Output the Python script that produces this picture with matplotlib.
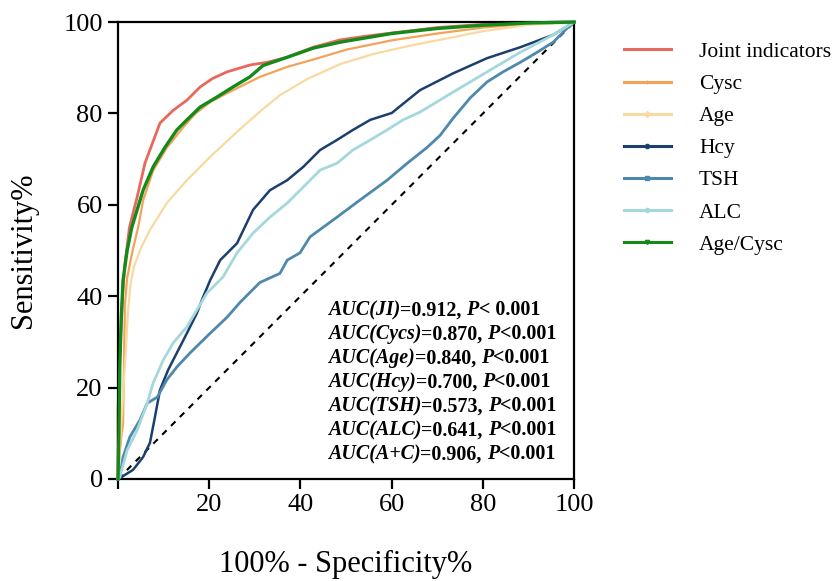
"""
ROC curves for single and joint indicators
"""
import numpy as np
import matplotlib
matplotlib.use("Agg")
import matplotlib.pyplot as plt
from matplotlib.lines import Line2D

plt.rcParams['font.family'] = ['Liberation Serif', 'DejaVu Serif']

# 100% - Specificity% (x) and Sensitivity% (y)
joint_x = [0, 0, 0.5, 1, 1.5, 2.5, 3.5, 4.2, 5.9, 9.2, 12.1, 15.1, 18.0, 20.8, 23.9, 28.9, 32.7,
           37.1, 42.8, 48.7, 55, 60, 70, 80, 90, 100]
joint_y = [0, 15, 30, 40, 47, 55, 59, 61.7, 69.1, 77.9, 80.7, 82.9, 85.8, 87.7, 89.1, 90.6, 91.2,
           92.3, 94.5, 96.1, 97.0, 97.6, 98.8, 99.5, 99.9, 100]

cysc_x = [0, 0.3, 0.8, 1.1, 1.3, 1.5, 2.0, 3.2, 4.4, 5.5, 7.7, 10.7, 14.3, 17.0, 20.2, 25.2, 31.1,
          37.1, 42.8, 50.2, 60, 70, 80, 90, 100]
cysc_y = [0, 5, 10, 12, 25, 38, 44, 50, 55, 61, 67.5, 72.5, 77, 80, 82.5, 85.1, 88,
          90.2, 91.8, 94, 96, 97.5, 98.8, 99.6, 100]

age_x = [0, 0.3, 0.7, 1.2, 1.7, 2.2, 2.8, 3.5, 5.0, 7.0, 10.7, 15.1, 20.2, 26.1, 31.8, 35.5, 41.4,
         48.7, 55.9, 63.4, 68.4, 75, 80, 90, 100]
age_y = [0, 5, 12, 20, 28, 37, 43, 46.5, 50.5, 54.5, 60.4, 65.4, 70.5, 76, 81, 84, 87.5,
         90.8, 93, 94.7, 95.7, 97, 98, 99.4, 100]

hcy_x = [0, 0.4, 3.3, 5.5, 7.0, 8.1, 9.2, 11.0, 12.9, 15.1, 17.3, 18.4, 20.2, 22.4, 26.1, 29.6,
         33.3, 37.1, 40.6, 44.3, 48.0, 51.5, 55.3, 60, 66.2, 73.5, 80.9, 88.2, 95.4, 100]
hcy_y = [0, 0.2, 2.0, 4.8, 7.9, 13.6, 19.5, 23.9, 27.6, 31.9, 36.3, 39.2, 43.5, 47.9, 51.6, 58.9,
         63.2, 65.4, 68.3, 72.0, 74.2, 76.4, 78.6, 80.1, 85.1, 88.8, 92.1, 94.5, 97.2, 100]

tsh_x = [0, 0.4, 1.1, 2.6, 4.8, 6.4, 8.6, 10.7, 12.9, 15.8, 20.2, 23.9, 26.8, 31.1, 35.5, 37.1,
         39.9, 42.1, 48.0, 53.1, 59.0, 63.4, 67.8, 70.6, 73.5, 77.2, 80.9, 84.4, 88.2, 91.9,
         95.4, 98.5, 100]
tsh_y = [0, 0.4, 4.8, 9.2, 12.9, 16.6, 17.9, 21.7, 24.5, 27.6, 31.9, 35.4, 38.7, 43.0, 45.0, 47.9,
         49.5, 53.0, 57.3, 61.1, 65.4, 69.1, 72.6, 75.2, 79.0, 83.4, 86.9, 89.1, 91.2, 93.4,
         95.6, 98.7, 100]

alc_x = [0, 0.4, 2.0, 4.2, 6.4, 7.7, 9.9, 12.1, 15.1, 17.3, 19.5, 23.0, 26.1, 29.6, 33.3, 37.1,
         40.6, 44.3, 48.0, 51.5, 55.3, 59.0, 62.5, 66.2, 73.5, 80.9, 88.2, 95.4, 100]
alc_y = [0, 0.4, 6.3, 10.7, 16.6, 21.0, 26.0, 29.8, 33.3, 37.0, 40.7, 44.2, 49.5, 53.8, 57.3, 60.4,
         63.9, 67.6, 69.1, 72.0, 74.2, 76.4, 78.6, 80.3, 84.7, 89.1, 93.4, 97.2, 100]

agecysc_x = [0, 0.2, 0.4, 0.7, 1.1, 2.0, 3.0, 3.7, 5.5, 7.7, 10.3, 12.9, 15.1, 18.0, 21.7, 25.2,
             28.9, 31.8, 37.1, 42.8, 48.7, 60, 70, 80, 90, 100]
agecysc_y = [0, 10, 25, 35, 43.5, 50, 55, 57.3, 63.2, 68.3, 72.6, 76.4, 78.6, 81.4, 83.6, 85.8,
             88.0, 90.5, 92.3, 94.3, 95.6, 97.5, 98.6, 99.3, 99.8, 100]

labels = ['Joint indicators', 'Cysc', 'Age', 'Hcy', 'TSH', 'ALC', 'Age/Cysc']
auc_names = ['AUC(JI)', 'AUC(Cycs)', 'AUC(Age)', 'AUC(Hcy)', 'AUC(TSH)', 'AUC(ALC)', 'AUC(A+C)']
auc_values = ['0.912', '0.870', '0.840', '0.700', '0.573', '0.641', '0.906']
p_texts = ['< 0.001', '<0.001', '<0.001', '<0.001', '<0.001', '<0.001', '<0.001']

colors_list = ['#e8695b', '#f4a257', '#fad9a1', '#1c3f6e', '#4e88ad', '#a4d8dc', '#138a1a']
widths = [2.0, 1.6, 1.6, 1.8, 2.0, 2.0, 2.4]
legend_markers = ['', '+', 'D', 'o', 's', 'o', 'v']

curves = [(joint_x, joint_y), (cysc_x, cysc_y), (age_x, age_y), (hcy_x, hcy_y),
          (tsh_x, tsh_y), (alc_x, alc_y), (agecysc_x, agecysc_y)]

fig = plt.figure(figsize=(8.37, 5.81), dpi=100)
ax = fig.add_axes([0.141, 0.1756, 0.545, 0.7864])

ax.plot([0, 100], [0, 100], color='black', linestyle=(0, (3, 3)), linewidth=1.5, zorder=1)

# draw order: keep green on top of red like the original
order = [2, 1, 0, 5, 4, 3, 6]
for i in order:
    x, y = curves[i]
    ax.plot(x, y, color=colors_list[i], linewidth=widths[i], zorder=2 + i,
            solid_joinstyle='round', clip_on=False)

ax.set_xlim(0, 100)
ax.set_ylim(0, 100)
ax.set_xticks([0, 20, 40, 60, 80, 100])
ax.set_xticklabels(['', '20', '40', '60', '80', '100'])
ax.set_yticks([0, 20, 40, 60, 80, 100])
ax.tick_params(axis='both', direction='out', length=7, width=1.6, labelsize=19, pad=4)
for s in ax.spines.values():
    s.set_linewidth(1.6)

ax.set_xlabel('100% - Specificity%', fontsize=22, labelpad=24)
ax.set_ylabel('Sensitivity%', fontsize=22, labelpad=18)

handles = [Line2D([0], [0], color=colors_list[i], linewidth=2.2, marker=legend_markers[i],
                  markersize=3) for i in range(len(labels))]
ax.legend(handles, labels, loc='upper left', bbox_to_anchor=(1.08, 0.985), frameon=False,
          fontsize=15.5, handlelength=2.2, handletextpad=1.3, labelspacing=0.56,
          borderaxespad=0.2)

# AUC annotations: italic-bold name, bold value, italic-bold P
fig.canvas.draw()
renderer = fig.canvas.get_renderer()
inv = ax.transData.inverted()
y0 = 35.8
dy = 5.25
for k in range(len(auc_names)):
    yy = y0 - k * dy
    xx = 46.0
    pieces = [(auc_names[k], 'italic'), ('=' + auc_values[k] + ', ', 'normal'),
              ('P', 'italic'), (p_texts[k], 'normal')]
    for txt, style in pieces:
        t = ax.text(xx, yy, txt, fontsize=14.4, fontweight='bold', style=style,
                    va='baseline', ha='left', zorder=20)
        bb = t.get_window_extent(renderer=renderer)
        x1 = inv.transform((bb.x1, bb.y0))[0]
        xx = x1

fig.savefig('out.png', dpi=100)
